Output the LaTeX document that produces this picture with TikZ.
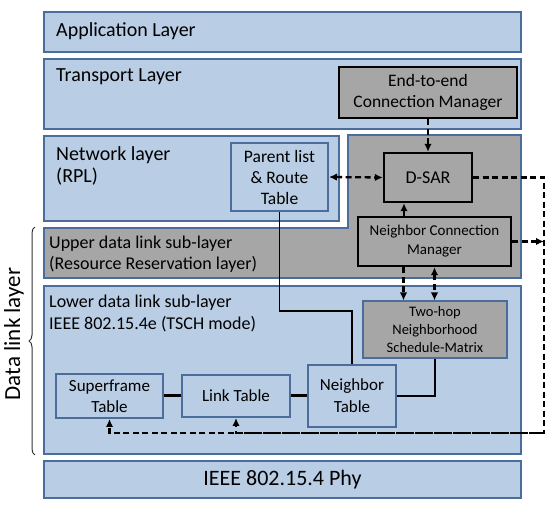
\documentclass[tikz,border=0pt]{standalone}
\usepackage{fontspec}
\setmainfont{Carlito}
\usetikzlibrary{arrows,arrows.meta}
\usetikzlibrary{positioning,decorations.pathreplacing}
\definecolor{layerblue}{HTML}{B9CDE5}
\definecolor{layeredge}{HTML}{4A6D9C}
\definecolor{modgray}{HTML}{A6A6A6}

\begin{document}
\begin{tikzpicture}[x=1pt,y=-1pt,
  layerbox/.style={draw=layeredge,fill=layerblue,line width=2pt,inner sep=0pt},
  modbox/.style={draw=black,fill=modgray,line width=2.4pt,align=center,inner sep=0pt},
  tablebox/.style={draw=layeredge,fill=layerblue,line width=2pt,align=center,inner sep=0pt},
  hopbox/.style={draw=layeredge,fill=modgray,line width=2pt,align=center,inner sep=0pt},
  titletxt/.style={anchor=west,align=left,inner sep=0pt,font=\fontsize{20}{22.5}\selectfont},
  subtxt/.style={anchor=west,align=left,inner sep=0pt,font=\fontsize{18}{21.5}\selectfont},
  tip/.style={-{Latex[length=8pt,width=7.5pt]}},
  twotip/.style={{Latex[length=8pt,width=7.5pt]}-{Latex[length=8pt,width=7.5pt]}},
  dashlink/.style={tip,line width=2.3pt,dash pattern=on 6pt off 3.5pt},
  thinlink/.style={line width=1.4pt},
  tablelink/.style={line width=3pt}]

  \useasboundingbox (0,0) rectangle (550,505);

  \node[layerbox,minimum width=477,minimum height=40] (app) at (282.5,32) {};
  \node[titletxt] (apptxt) at (56,31) {Application Layer};

  \node[layerbox,minimum width=477,minimum height=70] (trans) at (282.5,94) {};
  \node[titletxt] (transtxt) at (56,77) {Transport Layer};
  \node[modbox,minimum width=178,minimum height=51,font=\fontsize{17.5}{20.5}\selectfont] (e2e) at (428,92.5) {End-to-end\\Connection Manager};

  \node[layerbox,minimum width=295,minimum height=85] (net) at (191.5,178.5) {};
  \node[titletxt] (nettxt) at (56,166) {Network layer\\(RPL)};
  \node[tablebox,minimum width=97,minimum height=68,font=\fontsize{17.5}{21}\selectfont] (parent) at (279.5,177) {Parent list\\\& Route\\Table};

  \draw[draw=layeredge,fill=modgray,line width=2pt] (348,135) -- (521,135) -- (521,278) -- (44,278) -- (44,228) -- (348,228) -- cycle;
  \node[subtxt] (uptxt) at (49,254) {Upper data link sub-layer\\(Resource Reservation layer)};
  \node[modbox,minimum width=88,minimum height=49,font=\fontsize{18}{21}\selectfont] (dsar) at (428,177.5) {D-SAR};
  \node[modbox,minimum width=153,minimum height=49,font=\fontsize{15}{19}\selectfont] (ncm) at (434.5,241.5) {Neighbor Connection\\Manager};

  \node[layerbox,minimum width=477,minimum height=168] (low) at (282.5,370) {};
  \node[subtxt] (lowtxt) at (49,313.5) {Lower data link sub-layer\\IEEE 802.15.4e (TSCH mode)};
  \node[hopbox,minimum width=144,minimum height=57,font=\fontsize{14.5}{18}\selectfont] (twohop) at (435,330) {Two-hop\\Neighborhood\\Schedule-Matrix};
  \node[tablebox,minimum width=107,minimum height=44,font=\fontsize{17}{20.5}\selectfont] (sf) at (109.5,396) {Superframe\\Table};
  \node[tablebox,minimum width=108,minimum height=42,font=\fontsize{17}{20.5}\selectfont] (lt) at (236,396) {Link Table};
  \node[tablebox,minimum width=88,minimum height=62,font=\fontsize{17}{22}\selectfont] (nb) at (352,396) {Neighbor\\Table};

  \node[layerbox,minimum width=477,minimum height=37,font=\fontsize{22}{24}\selectfont] (phy) at (282.5,479.5) {IEEE 802.15.4 Phy};

  \draw[line width=1pt,draw=black!80,decorate,decoration={brace,amplitude=6pt}] (35,455) -- (35,227);
  \node[rotate=90,font=\fontsize{23}{25}\selectfont,inner sep=0pt] (dll) at (14,334) {Data link layer};

  \coordinate (rtop) at (544,178);
  \coordinate (rbot) at (544,433);

  \draw[dashlink] (e2e.south) -- (dsar.north);
  \draw[dashlink,twotip] (parent.east) -- (dsar.west);
  \draw[tip,line width=1.6pt] ([xshift=-24pt]dsar.south |- ncm.north) -- ([xshift=-24pt]dsar.south);
  \draw[dashlink] ([xshift=-31pt]ncm.south) -- ([xshift=-31pt]ncm.south |- twohop.north);
  \draw[dashlink,twotip] (ncm.south) -- (ncm.south |- twohop.north);
  \draw[dashlink] (dsar.east) -- (dsar.east -| rtop) -- (rbot) -| (sf.south);
  \draw[dashlink] (rbot) -| (lt.south);
  \draw[dashlink] (ncm.east) -- (ncm.east -| rtop);

  \draw[thinlink] (parent.south) |- ([yshift=53pt]nb.north) -- (nb.north);
  \draw[thinlink] (twohop.south) |- (nb.east);
  \draw[tablelink] (sf.east) -- (lt.west) (lt.east) -- (nb.west);

\end{tikzpicture}
\end{document}
